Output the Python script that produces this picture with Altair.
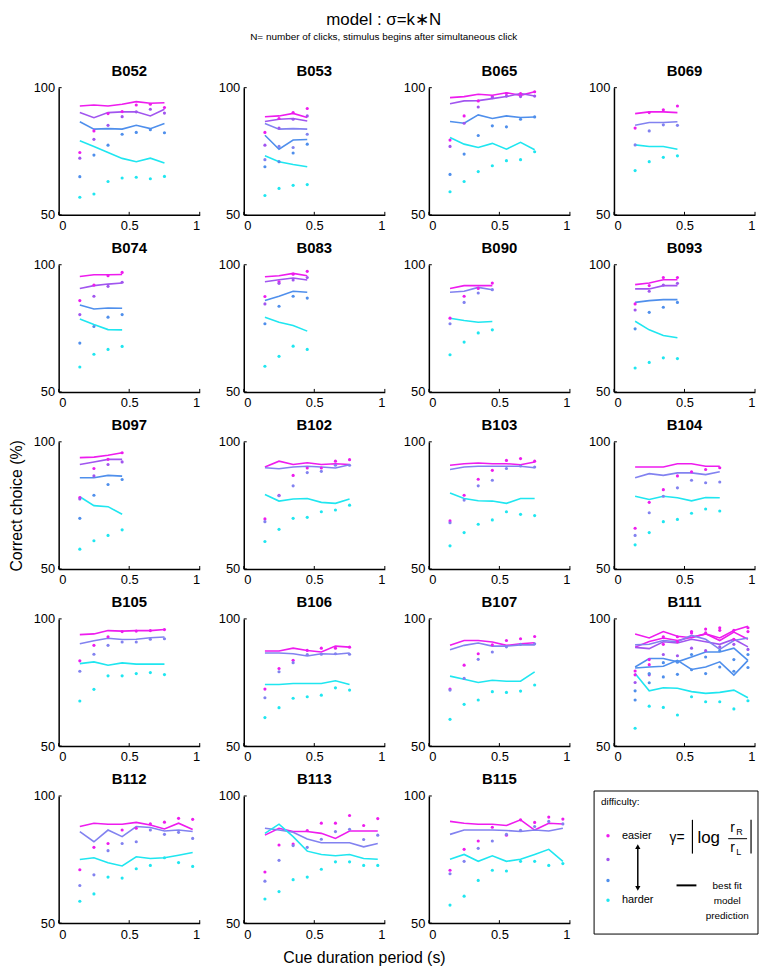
import altair as alt
import pandas as pd

FONT = "Liberation Sans"

X4 = [0.15, 0.25, 0.35, 0.45]
X7 = [0.15, 0.25, 0.35, 0.45, 0.55, 0.65, 0.75]
X9 = [0.15, 0.25, 0.35, 0.45, 0.55, 0.65, 0.75, 0.85, 0.95]
XTICKS = [0, 0.5, 1]
YTICKS = [50, 100]

# difficulty colour keys: M easier ... C harder
COLOR_DOMAIN = ["M", "P", "V", "B", "C"]
COLOR_RANGE = ["#ee1cee", "#a155ef", "#8282f0", "#4f8fec", "#1fe6f0"]

# ---- per-animal data: (colour key, values) ----
B052_fit = [("M", [92.8, 93.2, 92.8, 93.5, 94.5, 93.9, 94.1]),
            ("P", [90.2, 88.2, 90.2, 90.5, 90.5, 88.9, 91.5]),
            ("B", [86.6, 83.7, 83.9, 83.7, 85.2, 83.9, 85.9]),
            ("C", [79.1, 76.9, 74.5, 72.2, 70.9, 72.3, 70.4])]
B052_obs = [("M", [74.5, 83.0, 89.8, 90.6, 93.2, 93.5, 92.2]),
            ("P", [72.3, 79.7, 85.2, 88.6, 90.5, 91.5, 90.0]),
            ("B", [65.0, 73.5, 77.4, 81.7, 82.4, 83.5, 82.3]),
            ("C", [56.9, 58.2, 63.1, 64.5, 64.8, 64.2, 65.1])]

B053_fit = [("M", [88.6, 88.9, 89.9, 88.3]),
            ("P", [86.7, 87.6, 87.9, 86.9]),
            ("V", [85.9, 83.7, 83.9, 83.7]),
            ("B", [81.3, 75.8, 79.4, 79.6]),
            ("C", [73.2, 70.9, 69.8, 68.9])]
B053_obs = [("M", [82.4, 87.9, 90.2, 91.8]),
            ("P", [77.4, 84.1, 87.6, 88.9]),
            ("V", [71.7, 76.9, 76.5, 81.7]),
            ("B", [68.9, 70.9, 74.3, 77.8]),
            ("C", [57.6, 60.4, 61.6, 61.9])]

B065_fit = [("M", [96.1, 96.5, 97.4, 97.0, 98.0, 97.0, 98.4]),
            ("P", [93.7, 94.8, 94.9, 95.7, 96.5, 97.7, 96.7]),
            ("B", [86.7, 86.0, 89.3, 87.9, 88.9, 88.3, 88.5]),
            ("C", [80.4, 77.8, 76.5, 78.1, 75.8, 78.5, 75.6])]
B065_obs = [("M", [79.4, 88.9, 94.8, 96.5, 97.7, 97.7, 98.4]),
            ("P", [76.9, 86.0, 92.4, 96.1, 96.7, 96.5, 96.7]),
            ("B", [65.9, 73.9, 81.2, 85.0, 84.6, 87.6, 88.5]),
            ("C", [59.1, 63.1, 67.0, 69.3, 71.3, 71.7, 74.8])]

B069_fit = [("M", [89.8, 90.5, 90.5, 90.2]),
            ("V", [85.2, 86.3, 86.3, 86.6]),
            ("C", [77.5, 76.9, 76.9, 75.8])]
B069_obs = [("M", [84.1, 90.2, 91.3, 92.8]),
            ("V", [77.5, 83.0, 85.4, 85.2]),
            ("C", [67.4, 70.9, 72.6, 73.2])]

B074_fit = [("M", [95.4, 96.1, 96.1, 96.2]),
            ("P", [90.7, 91.8, 92.4, 92.8]),
            ("B", [84.2, 82.6, 83.0, 82.9]),
            ("C", [78.7, 76.5, 74.5, 74.4])]
B074_obs = [("M", [85.9, 92.0, 95.7, 97.0]),
            ("P", [80.4, 87.6, 91.5, 93.1]),
            ("B", [69.2, 75.7, 79.4, 80.4]),
            ("C", [59.8, 64.8, 66.7, 67.9])]

B083_fit = [("M", [95.3, 95.7, 96.6, 95.7]),
            ("P", [93.3, 94.1, 94.8, 94.0]),
            ("B", [85.9, 87.6, 89.6, 89.2]),
            ("C", [79.4, 77.4, 76.1, 73.9])]
B083_obs = [("M", [87.5, 93.3, 96.3, 97.4]),
            ("P", [84.6, 92.7, 94.0, 95.0]),
            ("B", [76.8, 83.7, 87.6, 86.9]),
            ("C", [60.1, 64.0, 68.0, 66.7])]

B090_fit = [("M", [90.7, 91.8, 91.8, 91.8]),
            ("V", [89.2, 89.6, 91.1, 90.2]),
            ("C", [79.0, 78.1, 77.4, 77.7])]
B090_obs = [("M", [79.0, 87.6, 90.7, 92.8]),
            ("V", [76.8, 85.2, 88.9, 90.2]),
            ("C", [64.6, 69.6, 73.2, 74.4])]

B093_fit = [("M", [92.2, 92.8, 94.1, 94.1]),
            ("P", [90.5, 90.5, 91.8, 91.8]),
            ("B", [85.2, 85.9, 86.3, 86.3]),
            ("C", [77.8, 74.4, 72.2, 71.3])]
B093_obs = [("M", [84.6, 91.8, 95.0, 95.0]),
            ("P", [82.2, 89.6, 92.0, 92.7]),
            ("B", [74.8, 81.3, 83.3, 85.2]),
            ("C", [59.4, 61.6, 63.4, 63.1])]

B097_fit = [("M", [93.8, 94.0, 94.7, 95.7]),
            ("P", [91.1, 92.1, 93.1, 93.1]),
            ("B", [85.9, 85.9, 86.8, 86.5]),
            ("C", [78.4, 74.9, 74.5, 71.5])]
B097_obs = [("M", [78.1, 89.5, 93.1, 95.7]),
            ("P", [77.5, 86.6, 91.1, 92.1]),
            ("B", [69.9, 79.0, 83.2, 85.2]),
            ("C", [57.8, 61.1, 63.2, 65.4])]

B102_fit = [("M", [90.1, 92.4, 91.1, 91.8, 91.1, 91.4, 91.1]),
            ("V", [89.8, 89.4, 90.1, 90.4, 90.1, 89.7, 91.0]),
            ("C", [79.3, 76.7, 77.5, 77.7, 76.2, 75.8, 77.5])]
B102_obs = [("M", [69.7, 79.0, 86.8, 89.7, 89.7, 92.4, 93.0]),
            ("V", [68.6, 78.8, 82.7, 87.9, 88.4, 90.8, 90.8]),
            ("C", [60.8, 65.6, 69.9, 70.3, 72.5, 73.2, 75.1])]

B103_fit = [("M", [90.8, 91.4, 91.7, 91.4, 91.4, 91.0, 92.1]),
            ("V", [89.1, 90.1, 90.4, 90.4, 90.4, 90.4, 89.8]),
            ("C", [79.9, 77.7, 76.8, 76.7, 75.8, 77.7, 77.7])]
B103_obs = [("M", [68.9, 79.0, 85.3, 88.8, 92.7, 93.4, 92.4]),
            ("V", [68.2, 77.1, 82.7, 84.9, 89.5, 90.5, 90.1]),
            ("C", [59.1, 64.3, 67.6, 69.3, 72.5, 71.5, 71.0])]

B104_fit = [("M", [90.1, 90.1, 90.1, 91.4, 91.4, 90.4, 90.4]),
            ("V", [85.9, 87.5, 86.8, 87.8, 87.8, 87.1, 88.2]),
            ("C", [78.6, 77.3, 78.6, 78.0, 76.8, 78.1, 78.0])]
B104_obs = [("M", [66.0, 76.2, 81.2, 86.6, 88.2, 89.1, 89.8]),
            ("V", [63.2, 72.1, 78.6, 81.9, 84.9, 83.9, 84.2]),
            ("C", [59.5, 64.3, 68.6, 69.5, 71.9, 73.6, 72.8])]

B105_fit = [("M", [93.8, 94.1, 95.4, 95.2, 95.4, 95.4, 95.8]),
            ("V", [90.2, 91.4, 92.4, 91.9, 92.0, 92.6, 92.9]),
            ("C", [82.4, 83.1, 81.8, 82.7, 82.2, 82.2, 82.2])]
B105_obs = [("M", [83.5, 89.6, 93.0, 95.0, 95.2, 95.4, 95.8]),
            ("V", [79.4, 86.1, 89.6, 90.9, 90.9, 92.0, 92.2]),
            ("C", [67.7, 72.3, 77.6, 77.6, 78.5, 78.9, 78.1])]

B106_fit = [("M", [87.4, 87.4, 88.5, 87.6, 87.0, 89.3, 88.9]),
            ("V", [86.6, 86.6, 86.3, 85.4, 86.3, 86.1, 86.6]),
            ("C", [74.2, 74.2, 74.6, 74.6, 74.6, 75.7, 74.2])]
B106_obs = [("M", [72.4, 80.5, 83.7, 87.6, 88.5, 88.5, 88.9]),
            ("V", [69.0, 79.2, 82.8, 86.0, 86.1, 86.3, 86.1]),
            ("C", [61.2, 65.1, 68.8, 69.4, 70.0, 72.9, 72.0])]

B107_fit = [("M", [89.6, 91.5, 91.5, 90.9, 89.6, 90.2, 90.6]),
            ("V", [87.9, 89.6, 90.5, 89.3, 89.3, 89.8, 89.8]),
            ("C", [77.5, 76.3, 75.0, 75.9, 75.5, 75.5, 79.2])]
B107_obs = [("M", [72.4, 81.8, 86.3, 89.8, 91.5, 92.2, 93.1]),
            ("V", [72.0, 76.6, 84.1, 87.0, 89.0, 90.0, 90.2]),
            ("C", [60.5, 66.4, 68.1, 71.4, 71.1, 71.6, 74.0])]

B111_fit = [("M", [94.1, 92.5, 95.0, 93.2, 92.6, 94.1, 92.5, 95.4, 97.1]),
            ("M", [88.9, 91.1, 92.5, 91.5, 92.8, 94.1, 91.5, 94.8, 92.0]),
            ("P", [88.8, 88.3, 91.0, 90.5, 92.0, 91.0, 90.0, 92.0, 89.0]),
            ("V", [89.8, 90.0, 91.5, 91.0, 93.5, 92.0, 88.0, 91.5, 92.5]),
            ("B", [81.1, 84.4, 84.4, 83.1, 85.0, 87.0, 87.0, 88.5, 83.7]),
            ("B", [80.7, 81.1, 81.4, 83.7, 80.1, 81.1, 83.1, 77.9, 83.7]),
            ("C", [78.5, 71.7, 72.9, 72.7, 71.4, 70.7, 71.1, 72.0, 69.0])]
B111_obs = [("M", [79.5, 84.0, 90.0, 91.0, 95.0, 96.0, 96.5, 95.5, 96.5]),
            ("M", [78.0, 82.0, 93.0, 93.0, 94.5, 94.5, 95.5, 92.0, 95.0]),
            ("P", [75.0, 78.0, 86.0, 85.5, 88.5, 87.5, 89.0, 90.0, 88.0]),
            ("B", [71.7, 74.9, 77.2, 78.2, 80.0, 78.5, 81.1, 79.4, 80.9]),
            ("B", [68.1, 78.5, 82.8, 83.0, 86.0, 85.0, 87.5, 84.0, 86.0]),
            ("C", [57.0, 65.7, 65.2, 62.2, 69.4, 67.4, 67.4, 64.6, 67.8])]

B112_fit = [("M", [88.0, 89.3, 88.9, 88.9, 89.6, 88.6, 87.0, 89.3, 86.8]),
            ("V", [86.0, 82.0, 86.6, 84.0, 88.0, 87.6, 86.2, 86.6, 86.0]),
            ("C", [75.0, 75.7, 73.7, 72.5, 76.1, 75.4, 75.7, 76.7, 77.8])]
B112_obs = [("M", [71.0, 79.8, 81.3, 86.6, 87.3, 89.0, 89.7, 91.2, 90.8]),
            ("V", [64.8, 69.0, 78.5, 81.3, 82.0, 86.6, 84.9, 85.7, 83.3]),
            ("C", [58.6, 61.5, 68.1, 67.7, 71.4, 72.7, 75.7, 73.8, 72.3])]

B113_fit = [("M", [84.6, 87.3, 86.0, 86.0, 85.3, 83.3, 86.2, 86.2, 86.2]),
            ("V", [87.3, 86.6, 85.7, 83.1, 81.6, 81.6, 81.6, 80.0, 81.3]),
            ("C", [85.3, 88.9, 84.0, 78.3, 77.0, 76.5, 77.0, 75.4, 75.1])]
B113_obs = [("M", [70.1, 80.7, 81.1, 86.4, 89.3, 89.3, 92.3, 88.4, 91.1]),
            ("V", [66.5, 74.7, 80.5, 79.8, 83.0, 86.0, 86.9, 82.9, 84.6]),
            ("C", [59.5, 62.4, 67.1, 68.1, 71.2, 74.1, 74.1, 72.7, 72.7])]

B115_fit = [("M", [90.0, 89.3, 88.9, 88.9, 88.4, 90.6, 86.6, 89.3, 89.0]),
            ("V", [84.9, 86.6, 86.6, 86.6, 86.4, 86.0, 86.6, 86.2, 87.3]),
            ("C", [75.1, 77.0, 74.3, 76.5, 74.3, 75.1, 77.0, 79.0, 74.3])]
B115_obs = [("M", [70.8, 79.0, 82.3, 87.7, 84.6, 90.6, 89.6, 91.7, 90.9]),
            ("V", [69.4, 74.3, 79.4, 82.3, 84.9, 86.5, 88.0, 90.0, 89.0]),
            ("C", [57.1, 60.6, 66.8, 70.8, 70.5, 74.3, 74.3, 72.7, 73.4])]

PANELS = [
    ("B052", X7, B052_fit, B052_obs), ("B053", X4, B053_fit, B053_obs),
    ("B065", X7, B065_fit, B065_obs), ("B069", X4, B069_fit, B069_obs),
    ("B074", X4, B074_fit, B074_obs), ("B083", X4, B083_fit, B083_obs),
    ("B090", X4, B090_fit, B090_obs), ("B093", X4, B093_fit, B093_obs),
    ("B097", X4, B097_fit, B097_obs), ("B102", X7, B102_fit, B102_obs),
    ("B103", X7, B103_fit, B103_obs), ("B104", X7, B104_fit, B104_obs),
    ("B105", X7, B105_fit, B105_obs), ("B106", X7, B106_fit, B106_obs),
    ("B107", X7, B107_fit, B107_obs), ("B111", X9, B111_fit, B111_obs),
    ("B112", X9, B112_fit, B112_obs), ("B113", X9, B113_fit, B113_obs),
    ("B115", X9, B115_fit, B115_obs),
]

W, H = 142, 128
XT_DF = pd.DataFrame({"x": XTICKS})
YT_DF = pd.DataFrame({"y": YTICKS})


def make_df(xs, series):
    rows = []
    for i, (c, ys) in enumerate(series):
        for x, y in zip(xs, ys):
            rows.append({"x": x, "y": y, "c": c, "sid": i})
    return pd.DataFrame(rows)


def panel(name, xs, fits, obs):
    xaxis = dict(values=XTICKS, format="~g", ticks=False, grid=False,
                 labelPadding=5, labelFontSize=13)
    yaxis = dict(values=YTICKS, format="d", ticks=False, grid=False,
                 labelPadding=4, labelFontSize=13)
    xtitle = None
    ytitle = None
    if name == "B113":
        xtitle = "Cue duration period (s)"
        xaxis.update(titleFontSize=16, titlePadding=9, titleX=121)
    if name == "B097":
        ytitle = "Correct choice (%)"
        yaxis.update(titleFontSize=16, titleX=-34)
    xscale = alt.Scale(domain=[0, 1], nice=False)
    yscale = alt.Scale(domain=[50, 100], nice=False)
    xenc = alt.X("x:Q", scale=xscale, axis=alt.Axis(**xaxis), title=xtitle)
    yenc = alt.Y("y:Q", scale=yscale, axis=alt.Axis(**yaxis), title=ytitle)
    cenc = alt.Color("c:N", scale=alt.Scale(domain=COLOR_DOMAIN, range=COLOR_RANGE),
                     legend=None)
    lines = alt.Chart(make_df(xs, fits)).mark_line(strokeWidth=1.6).encode(
        x=xenc, y=yenc, color=cenc, detail="sid:N")
    pts = alt.Chart(make_df(xs, obs)).mark_circle(size=10, opacity=1).encode(
        x=xenc, y=yenc, color=cenc)
    # short inward tick marks (MATLAB style)
    xt = alt.Chart(XT_DF).mark_rule(color="black", strokeWidth=1).encode(
        x=alt.X("x:Q", scale=xscale), y=alt.value(H), y2=alt.value(H - 3))
    yt = alt.Chart(YT_DF).mark_rule(color="black", strokeWidth=1).encode(
        y=alt.Y("y:Q", scale=yscale), x=alt.value(0), x2=alt.value(3))
    return alt.layer(lines, pts, xt, yt).properties(
        width=W, height=H,
        title=alt.TitleParams(name, fontSize=15, fontWeight="bold", font=FONT,
                              color="black", offset=3))


charts = [panel(*p) for p in PANELS]

# ---- legend panel ----
def px(f):
    return alt.X(f, scale=None, axis=None)


def py(f):
    return alt.Y(f, scale=None, axis=None)


leg_text_left = pd.DataFrame([
    {"t": "difficulty:", "px": -13, "py": 6, "fs": 10},
    {"t": "easier", "px": 8, "py": 40, "fs": 11},
    {"t": "harder", "px": 8, "py": 105, "fs": 11},
    {"t": "γ=", "px": 56, "py": 42, "fs": 14},
    {"t": "log", "px": 84, "py": 42, "fs": 17},
    {"t": "r", "px": 117, "py": 32, "fs": 14},
    {"t": "R", "px": 123, "py": 36, "fs": 9},
    {"t": "r", "px": 117, "py": 52, "fs": 14},
    {"t": "L", "px": 123, "py": 56, "fs": 9},
])
leg_text_center = pd.DataFrame([
    {"t": "best fit", "px": 114, "py": 91, "fs": 10},
    {"t": "model", "px": 114, "py": 106, "fs": 10},
    {"t": "prediction", "px": 114, "py": 121, "fs": 10},
])
leg_dots = pd.DataFrame({"px": [-6, -6, -6, -6], "py": [40, 64, 85, 105],
                         "col": [COLOR_RANGE[0], COLOR_RANGE[1], COLOR_RANGE[3], COLOR_RANGE[4]]})
leg_rules = pd.DataFrame([
    {"x1": 24, "x2": 24, "y1": 52, "y2": 92, "w": 1.5},   # arrow shaft
    {"x1": 63, "x2": 83, "y1": 90, "y2": 90, "w": 2},     # model line sample
    {"x1": 79, "x2": 79, "y1": 24, "y2": 58, "w": 1.2},   # |
    {"x1": 138, "x2": 138, "y1": 24, "y2": 58, "w": 1.2},  # |
    {"x1": 115, "x2": 134, "y1": 43, "y2": 43, "w": 1},   # fraction bar
])
leg_heads = pd.DataFrame([
    {"px": 24, "py": 51, "shape": "triangle-up"},
    {"px": 24, "py": 93, "shape": "triangle-down"},
])
dummy = pd.DataFrame({"a": [0]})

box = alt.Chart(dummy).mark_rect(fillOpacity=0, stroke="black", strokeWidth=1).encode(
    x=alt.value(-20), x2=alt.value(145), y=alt.value(-5), y2=alt.value(139))
tl = alt.Chart(leg_text_left).mark_text(align="left", baseline="middle", font=FONT,
                                          color="black").encode(
    x=px("px:Q"), y=py("py:Q"), text="t:N", size=alt.Size("fs:Q", scale=None))
tc = alt.Chart(leg_text_center).mark_text(align="center", baseline="middle", font=FONT,
                                            color="black").encode(
    x=px("px:Q"), y=py("py:Q"), text="t:N", size=alt.Size("fs:Q", scale=None))
dots = alt.Chart(leg_dots).mark_circle(size=12, opacity=1).encode(
    x=px("px:Q"), y=py("py:Q"), color=alt.Color("col:N", scale=None))
rules = alt.Chart(leg_rules).mark_rule(color="black").encode(
    x=px("x1:Q"), x2="x2:Q", y=py("y1:Q"), y2="y2:Q",
    strokeWidth=alt.StrokeWidth("w:Q", scale=None))
heads = alt.Chart(leg_heads).mark_point(filled=True, color="black", size=28, opacity=1).encode(
    x=px("px:Q"), y=py("py:Q"), shape=alt.Shape("shape:N", scale=None))
legend_panel = alt.layer(box, rules, heads, dots, tl, tc).properties(width=W, height=H)

charts.append(legend_panel)

chart = alt.concat(
    *charts, columns=4, bounds="flush",
    spacing=alt.RowColnumber(row=50.25, column=44.33),
).properties(
    title=alt.TitleParams(
        text="model : σ=k∗N",
        subtitle="N= number of clicks, stimulus begins after simultaneous click",
        fontSize=17, subtitleFontSize=10, font=FONT, subtitleFont=FONT,
        fontWeight="normal", color="black", subtitleColor="black",
        anchor="middle", offset=21, subtitlePadding=3),
    padding={"left": 0, "right": 0, "top": 0, "bottom": 5},
).configure_view(stroke=None).configure_axis(
    domainColor="black", domainWidth=1.5, labelColor="black", labelFont=FONT,
    titleFont=FONT, titleFontWeight="normal", titleColor="black")

chart.save("out.html", embed_options={"renderer": "svg", "actions": False})
